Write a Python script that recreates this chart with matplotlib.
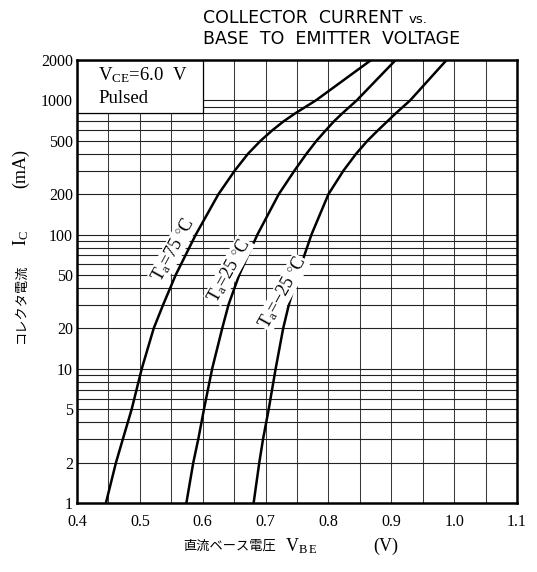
import matplotlib.pyplot as plt
from matplotlib.patches import Rectangle
from matplotlib.ticker import FixedLocator, NullLocator

# collector current (mA) and base-emitter voltage (V)
ic_ma = [1, 2, 3, 5, 10, 20, 30, 50, 100, 200, 300, 400, 500, 600, 700, 800, 1000, 2000]
vbe_75 = [0.446, 0.462, 0.473, 0.487, 0.503, 0.522, 0.537, 0.557, 0.589, 0.625, 0.651, 0.672,
          0.692, 0.711, 0.729, 0.747, 0.780, 0.868]
vbe_25 = [0.574, 0.585, 0.593, 0.602, 0.615, 0.631, 0.641, 0.658, 0.687, 0.721, 0.746, 0.765,
          0.781, 0.796, 0.809, 0.822, 0.845, 0.907]
vbe_m25 = [0.681, 0.690, 0.696, 0.705, 0.716, 0.728, 0.737, 0.751, 0.773, 0.800, 0.824, 0.844,
           0.862, 0.879, 0.894, 0.907, 0.930, 0.988]

x_ticks = [0.4, 0.5, 0.6, 0.7, 0.8, 0.9, 1.0, 1.1]
x_ticklabels = ["0.4", "0.5", "0.6", "0.7", "0.8", "0.9", "1.0", "1.1"]
y_ticks = [1, 2, 5, 10, 20, 50, 100, 200, 500, 1000, 2000]
x_grid = [0.45, 0.5, 0.55, 0.6, 0.65, 0.7, 0.75, 0.8, 0.85, 0.9, 0.95, 1.0, 1.05]
y_grid = [2, 3, 4, 5, 6, 7, 8, 9, 10, 20, 30, 40, 50, 60, 70, 80, 90, 100,
          200, 300, 400, 500, 600, 700, 800, 900, 1000]

plt.rcParams["mathtext.fontset"] = "custom"
plt.rcParams["mathtext.rm"] = "Liberation Serif"
plt.rcParams["mathtext.it"] = "Liberation Serif:italic"

SERIF = ["Liberation Serif", "Noto Sans CJK JP"]
CJK = ["Noto Sans CJK JP", "Liberation Serif"]

W, H = 537, 572
fig = plt.figure(figsize=(W / 100, H / 100), dpi=100)
ax = fig.add_axes([77 / W, 1 - 503 / H, 440 / W, 443 / H])
ax.set_xlim(0.4, 1.1)
ax.set_yscale("log")
ax.set_ylim(1, 2000)

for xv in x_grid:
    ax.axvline(xv, color="#3a3a3a", lw=0.75, zorder=1)
for yv in y_grid:
    ax.axhline(yv, color="#222222", lw=0.8, zorder=1)

# condition box in upper-left corner
ax.add_patch(Rectangle((0.4, 800), 0.2, 1200, facecolor="white", edgecolor="black",
                       lw=0.9, zorder=2))
ax.text(0.434, 1530, r"V$_{\rm CE}$=6.0  V", fontsize=13.5, family=SERIF, va="center", zorder=3)
ax.text(0.434, 1040, "Pulsed", fontsize=13.5, family=SERIF, va="center", zorder=3)

for v in (vbe_75, vbe_25, vbe_m25):
    ax.plot(v, ic_ma, color="black", lw=1.8, zorder=4, solid_joinstyle="round")

lab_kw = dict(fontsize=13, family=SERIF, rotation=61, ha="center", va="center", zorder=5,
              bbox=dict(facecolor="white", edgecolor="none", pad=0.2))
ax.text(0.553, 77, r"T$_{\rm a}$=75 $^{\circ}$C", **lab_kw)
ax.text(0.642, 54, r"T$_{\rm a}$=25 $^{\circ}$C", **lab_kw)
ax.text(0.727, 37, r"T$_{\rm a}$=$-$25 $^{\circ}$C", **lab_kw)

ax.xaxis.set_major_locator(FixedLocator(x_ticks))
ax.set_xticklabels(x_ticklabels, family=SERIF, fontsize=11.5)
ax.yaxis.set_major_locator(FixedLocator(y_ticks))
ax.yaxis.set_minor_locator(NullLocator())
ax.set_yticklabels([str(t) for t in y_ticks], family=SERIF, fontsize=11.5)
ax.tick_params(axis="x", length=0, pad=8)
ax.tick_params(axis="y", length=0, pad=3)
for s in ax.spines.values():
    s.set_linewidth(1.8)
    s.set_zorder(6)

# axis labels (Japanese part smaller than the symbol part)
fig.text(183 / W, 1 - 546 / H, "直流ベース電圧", family=CJK, fontsize=9.5, va="center")
fig.text(285 / W, 1 - 546 / H, r"V$_{\rm B\,E}$", family=SERIF, fontsize=13, va="center")
fig.text(373 / W, 1 - 546 / H, "(V)", family=SERIF, fontsize=13, va="center")

fig.text(21 / W, 1 - 303 / H, "コレクタ電流", family=CJK, fontsize=9.5, rotation=90,
         ha="center", va="center")
fig.text(21 / W, 1 - 238 / H, r"I$_{\rm C}$", family=SERIF, fontsize=13, rotation=90,
         ha="center", va="center")
fig.text(21 / W, 1 - 168 / H, "(mA)", family=SERIF, fontsize=13, rotation=90,
         ha="center", va="center")

# title, "vs." set smaller
t1 = fig.text(203 / W, 1 - 9 / H, "COLLECTOR  CURRENT ", family="DejaVu Sans", fontsize=12.5,
              va="top")
fig.text(203 / W, 1 - 30 / H, "BASE  TO  EMITTER  VOLTAGE", family="DejaVu Sans",
         fontsize=12.5, va="top")
fig.canvas.draw()
bb = t1.get_window_extent()
fig.text(bb.x1 / W, bb.y0 / H + 0.002, "vs.", family="DejaVu Sans", fontsize=9.5, va="bottom")

fig.savefig("out.png", dpi=100)
